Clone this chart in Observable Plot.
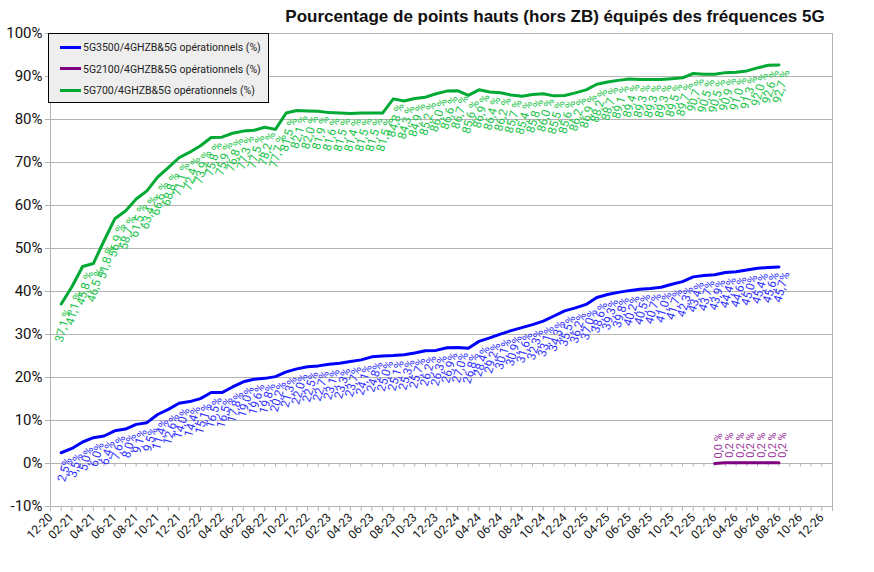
<!DOCTYPE html>
<html><head><meta charset="utf-8">
<script src="https://cdn.jsdelivr.net/npm/d3@7"></script>
<script src="https://cdn.jsdelivr.net/npm/@observablehq/plot@0.6"></script>
<style>
body{margin:0;background:#fff;font-family:Roboto,sans-serif}
#wrap{position:relative;width:874px;height:572px;overflow:hidden}
#title{position:absolute;left:555px;top:7px;transform:translateX(-50%);white-space:nowrap;font:bold 17px "Liberation Sans",Arial,sans-serif;color:#111;line-height:19px}
#legend{position:absolute;left:48px;top:33px;width:221px;height:70px;box-sizing:border-box;background:#eeeeee;border:1px solid #000}
.item{position:absolute;left:11px;height:14px;font:10.5px Roboto,sans-serif;color:#222;white-space:nowrap;line-height:14px}
.item span{display:inline-block;width:21px;height:3px;vertical-align:middle;margin-right:2px;position:relative;top:-1px}
svg{position:absolute;left:0;top:0}
</style></head>
<body><div id="wrap"><div id="chart"></div>
<div id="title">Pourcentage de points hauts (hors ZB) équipés des fréquences 5G</div>
<div id="legend"></div></div>
<script>
// tick labels (every 2 months, index 0 = 12-20)
const tickLabels = ["12-20","02-21","04-21","06-21","08-21","10-21","12-21","02-22","04-22","06-22","08-22","10-22","12-22","02-23","04-23","06-23","08-23","10-23","12-23","02-24","04-24","06-24","08-24","10-24","12-24","02-25","04-25","06-25","08-25","10-25","12-25","02-26","04-26","06-26","08-26","10-26","12-26"];
// series (monthly, starting 01-21)
const seriesNames = ["5G3500/4GHZB&5G opérationnels (%)","5G2100/4GHZB&5G opérationnels (%)","5G700/4GHZB&5G opérationnels (%)"];
const seriesColors = ["#0000ff","#800080","#00a933"];
const labelColors = ["#3333ff","#993399","#22c44a"];
const v3500 = [2.5,3.5,5.0,6.0,6.4,7.6,8.0,9.1,9.5,11.4,12.6,14.0,14.4,15.1,16.5,16.5,17.8,19.0,19.6,19.8,20.2,21.3,22.0,22.5,22.7,23.1,23.3,23.7,24.1,24.8,25.0,25.1,25.3,25.7,26.2,26.3,26.9,27.0,26.8,28.4,29.2,30.1,30.9,31.6,32.3,33.1,34.3,35.5,36.2,37.0,38.6,39.3,39.8,40.2,40.5,40.7,41.0,41.7,42.3,43.4,43.7,43.9,44.4,44.6,45.0,45.4,45.6,45.7];
const v700 = [37.1,41.1,45.8,46.5,51.8,56.9,58.7,61.5,63.4,66.6,68.8,71.1,72.4,73.9,75.8,75.9,76.8,77.3,77.5,78.2,77.7,81.5,82.1,82.0,81.9,81.6,81.5,81.4,81.5,81.5,81.5,84.8,84.3,84.9,85.2,86.0,86.6,86.7,85.6,86.9,86.4,86.2,85.7,85.4,85.8,86.0,85.5,85.6,86.2,86.9,88.2,88.7,89.1,89.4,89.3,89.3,89.3,89.5,89.7,90.7,90.5,90.5,90.9,91.0,91.3,92.0,92.6,92.7];
const v2100 = [0.0,0.2,0.2,0.2,0.2,0.2,0.2];
const start3500 = 1, start700 = 1, start2100 = 62; // month index (0 = 12-20)
const yTicks = [-10,0,10,20,30,40,50,60,70,80,90,100];

const toRows = (vals, s) => vals.map((v, k) => ({i: s + k, v}));
const d3500 = toRows(v3500, start3500), d700 = toRows(v700, start700), d2100 = toRows(v2100, start2100);
const fmt = v => v.toFixed(1).replace(".", ",");
const months = d3.range(0, 74);

const plot = Plot.plot({
  width: 874, height: 572,
  marginLeft: 50, marginRight: 42, marginTop: 33, marginBottom: 66,
  style: {fontFamily: "Roboto, sans-serif", color: "#111", background: "#fff", overflow: "visible"},
  x: {domain: [0, 73]},
  y: {domain: [-10, 100]},
  marks: [
    Plot.gridY(yTicks, {stroke: "#b3b3b3", strokeOpacity: 1}),
    Plot.frame({stroke: "#b3b3b3"}),
    Plot.ruleX(months, {x: d => d, y1: 0, y2: -0.8, stroke: "#b3b3b3"}),
    Plot.axisY({ticks: yTicks, tickFormat: d => d + "%", fontSize: 15, tickSize: 5, tickPadding: 3, stroke: "#b3b3b3", label: null}),
    Plot.axisX({ticks: months, tickFormat: i => (i % 2 === 0 && i <= 72) ? tickLabels[i / 2] : "", tickRotate: -45, fontSize: 12, tickSize: 5, tickPadding: 4, stroke: "#b3b3b3", label: null}),
    Plot.line(d3500, {x: "i", y: "v", stroke: seriesColors[0], strokeWidth: 3, strokeLinejoin: "round"}),
    Plot.line(d2100, {x: "i", y: "v", stroke: seriesColors[1], strokeWidth: 3}),
    Plot.line(d700, {x: "i", y: "v", stroke: seriesColors[2], strokeWidth: 3, strokeLinejoin: "round"}),
    Plot.text(d3500, {x: "i", y: "v", text: d => fmt(d.v) + "%", rotate: -74, textAnchor: "end", dx: 7, dy: 5, fill: labelColors[0], fontSize: 12}),
    Plot.text(d700, {x: "i", y: "v", text: d => fmt(d.v) + " %", rotate: -74, textAnchor: "end", dx: 7, dy: 5, fill: labelColors[2], fontSize: 12}),
    Plot.text(d2100, {x: "i", y: "v", text: d => fmt(d.v) + " %", rotate: -90, textAnchor: "start", dx: 4, dy: -5, fill: labelColors[1], fontSize: 11})
  ]
});
document.getElementById("chart").appendChild(plot);

const leg = document.getElementById("legend");
seriesNames.forEach((n, k) => {
  const it = document.createElement("div");
  it.className = "item";
  it.style.top = (7 + k * 21.5) + "px";
  it.innerHTML = `<span style="background:${seriesColors[k]}"></span>`;
  it.appendChild(document.createTextNode(n));
  leg.appendChild(it);
});
</script></body></html>
